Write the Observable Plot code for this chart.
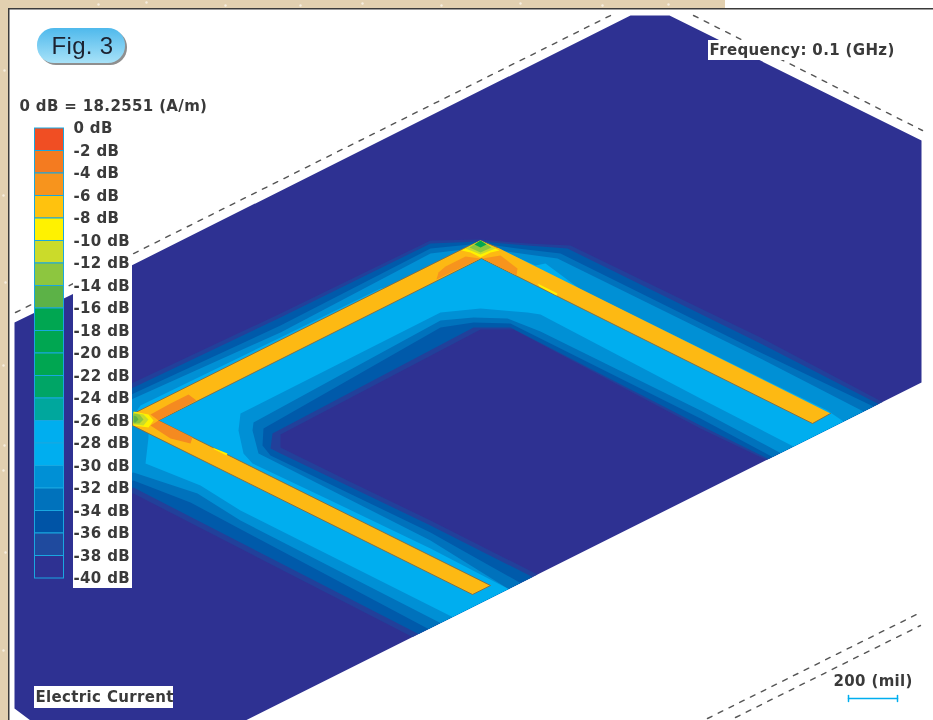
<!DOCTYPE html>
<html>
<head>
<meta charset="utf-8">
<script src="https://cdn.jsdelivr.net/npm/d3@7"></script>
<script src="https://cdn.jsdelivr.net/npm/@observablehq/plot@0.6"></script>
<style>
html,body{margin:0;padding:0;background:#fff;}
#chart{position:relative;width:933px;height:720px;overflow:hidden;}
#chart svg{position:absolute;left:0;top:0;background:transparent;}
</style>
</head>
<body>
<div id="chart"></div>
<script>
// Colour scale of the legend: one entry per 2 dB step
const dbTicks = [0,-2,-4,-6,-8,-10,-12,-14,-16,-18,-20,-22,-24,-26,-28,-30,-32,-34,-36,-38,-40];
const dbColors = ["#f04e23","#f47b20","#f7941d","#ffc20e","#fff200","#cbdb2a","#8dc63f","#5cb247","#00a651","#00a651","#00a651","#00a566","#00a79d","#00aeef","#00aeef","#0090d5","#0072bc","#0054a6","#1f4a9e","#2e3192"];

// Outlines, in picture coordinates
const board = [[14,322],[133,264],[630,15],[669,15],[921,140],[921,382],[245,720],[30,720],[14,708]];

const band38 = [[882,401.5],[760,337],[570,245],[527,243],[480,239],[430,240],[280,313],[133,382],[120,388],[120,495],[133,493],[412,636.5],[537,574],[430,520],[347,480],[280,447],[280,434],[480,329],[513,329],[700,428],[766,459.5]];
const band36 = [[878,403.5],[760,343],[567,248],[527,245],[480,241],[430,243],[280,317],[133,387],[120,393],[120,490],[133,487],[418,633.5],[532,576.5],[430,525],[278,452],[270,448],[272,433],[473,327],[510,327],[700,425],[768,458.5]];
const band34 = [[873,406],[760,352],[560,253],[517,248],[480,243],[430,248],[280,325],[133,393],[120,400],[120,484],[133,480],[190,502],[428,628.5],[520,582.5],[430,532],[270,455],[262,445],[263,428],[440,327],[473,322],[510,323],[700,418],[772,456.5]];
const band32 = [[863,411],[760,358],[557,258],[513,252],[480,247],[430,253],[280,332],[133,398],[120,405],[120,475],[133,472],[197,493],[240,520],[440,622.5],[508,588.5],[430,540],[272,460],[258,453],[252,430],[253,422],[440,320],[473,317],[507,318],[540,331],[700,410],[780,452.5]];
const band30 = [[843,421],[827,410],[580,289],[545,263],[535,265],[510,254],[480,255],[400,283],[380,288],[280,337],[140,405],[133,415],[148,428],[148,437],[145,463],[200,485],[240,510],[452,616.5],[508,588.5],[430,548],[330,500],[252,463],[243,453],[238,430],[240,413],[440,312],[480,308],[527,312],[540,314],[700,398],[793,446]];

const trace = [[830,413],[812,423],[481,258],[158,420],[490,585],[472,594],[132,425],[133,413],[463,248],[480,240],[497,247]];

const orangeApexLeft = [[436,279],[438,272],[445,266],[465,256],[480,258]];
const orangeApexRight = [[482,258],[500,255],[517,268],[516,275]];
const orangeVertexUp = [[158,420],[150,414],[170,403],[188,394],[196,400]];
const orangeVertexDown = [[158,420],[150,425],[170,438],[190,443],[192,437]];

const apexYellow = [[461,250],[480,240],[499,250],[490,252],[480,257],[470,252]];
const apexLime = [[465,248],[480,240],[495,248],[480,254]];
const apexMid = [[469,247],[480,240],[491,247],[480,252]];
const apexGreen = [[474,244],[480,240],[486,244],[480,247]];

const tipYellow = [[133,411],[148,414],[153,420],[148,427],[133,425]];
const tipLime = [[133,412],[143,414],[148,419],[143,425],[133,424]];
const tipMid = [[133,413],[139,414],[143,419],[139,423],[133,423]];
const tipGreen = [[133,415],[136,416],[138,419],[135,422],[133,422]];

const glintLower = [[212,447],[227,453],[226,455],[214,449]];
const glintRight = [[537,283],[557,293],[556,295],[539,286]];

const dashTopLeft = [[15,312],[610,15]];
const dashTopRight = [[693,15],[922,130]];
const dashBottomA = [[707,718],[920,612]];
const dashBottomB = [[735,717],[920,625]];

// Texts
const labelFrequency = "Frequency: 0.1 (GHz)";
const labelReference = "0 dB = 18.2551 (A/m)";
const labelQuantity = "Electric Current";
const labelScale = "200 (mil)";
const labelFigure = "Fig. 3";

// A few light flecks on the tan paper
const flecks = [[98,4],[146,2],[225,5],[300,5],[362,3],[441,5],[520,3],[602,5],[668,4],[4,70],[3,195],[5,282],[3,365],[4,445],[3,470],[5,552],[3,650]];

const coord = d => d;
const poly = (pts, fill, extra = {}) => Plot.line(pts, {x: d => d[0], y: d => d[1], fill, stroke: "none", ...extra});
const dash = pts => Plot.line(pts, {x: d => d[0], y: d => d[1], stroke: "#555", strokeWidth: 1.4, strokeDasharray: "5 7"});
const box = (x1, x2, y1, y2, fill) => Plot.rect([0], {x1: () => x1, x2: () => x2, y1: () => y1, y2: () => y2, fill});
const FONT = "'DejaVu Sans', sans-serif";
const textStyle = {textAnchor: "start", fill: "#3a3a3a", fontSize: 15, fontWeight: 700, fontFamily: FONT};
const label = (t, x, y) => Plot.text([t], {x: () => x, y: () => y, text: coord, ...textStyle});
const svgStyle = {background: "transparent", filter: "blur(0.45px)", letterSpacing: "0.35px"};

const main = Plot.plot({
  width: 933, height: 720, margin: 0,
  x: {domain: [0, 933], range: [0, 933], axis: null},
  y: {domain: [0, 720], range: [0, 720], axis: null},
  style: svgStyle,
  marks: [
    box(0, 933, 0, 720, "#ffffff"),
    box(0, 725, 0, 8, "#e2d0b0"),
    box(0, 8, 0, 720, "#e2d0b0"),
    Plot.dot(flecks, {x: d => d[0], y: d => d[1], r: 1.2, fill: "#f6eee0"}),
    box(8, 933, 8, 9.5, "#3a3a3a"),
    box(8, 9.5, 8, 720, "#3a3a3a"),
    dash(dashTopLeft), dash(dashTopRight), dash(dashBottomA), dash(dashBottomB),
    poly(board, "#2e3192"),
    poly(band38, "#22409a"),
    poly(band36, "#005aaa"),
    poly(band34, "#0072bc"),
    poly(band32, "#0090d5"),
    poly(band30, "#00aeef"),
    poly(trace, "#fdb913", {stroke: "#7f6a45", strokeWidth: 0.9}),
    poly(orangeApexLeft, "#f7941d"), poly(orangeApexRight, "#f7941d"),
    poly(orangeVertexUp, "#f58a20"), poly(orangeVertexDown, "#f58a20"),
    poly(glintLower, "#fff200"), poly(glintRight, "#fff200"),
    poly(apexYellow, "#fff200"), poly(apexLime, "#cbdb2a"), poly(apexMid, "#8dc63f"), poly(apexGreen, "#00a651"),
    poly(tipYellow, "#fff200"), poly(tipLime, "#cbdb2a"), poly(tipMid, "#8dc63f"), poly(tipGreen, "#5cb247"),
    box(73, 132, 125, 588, "#ffffff"),
    box(34, 173, 686, 708, "#ffffff"),
    box(708, 900, 40, 60, "#ffffff"),
    label(labelFrequency, 709, 50),
    label(labelReference, 19, 106),
    label(labelQuantity, 35, 697),
    label(labelScale, 833, 681),
    Plot.line([[848, 698], [897, 698]], {x: d => d[0], y: d => d[1], stroke: "#00aeef", strokeWidth: 1.5}),
    Plot.line([[848, 695], [848, 701]], {x: d => d[0], y: d => d[1], stroke: "#00aeef", strokeWidth: 1.5}),
    Plot.line([[897, 695], [897, 701]], {x: d => d[0], y: d => d[1], stroke: "#00aeef", strokeWidth: 1.5}),
    Plot.rect([0], {x1: () => 39, x2: () => 127, y1: () => 30, y2: () => 65, fill: "#8f8f8f", rx: 17}),
    () => {
      const defs = d3.create("svg:defs");
      const g = defs.append("linearGradient").attr("id", "pill").attr("x1", 0).attr("y1", 0).attr("x2", 0).attr("y2", 1);
      g.append("stop").attr("offset", "0%").attr("stop-color", "#4fb9ec");
      g.append("stop").attr("offset", "100%").attr("stop-color", "#a8e2f8");
      return defs.node();
    },
    Plot.rect([0], {x1: () => 37, x2: () => 125, y1: () => 28, y2: () => 63, fill: "url(#pill)", rx: 17}),
    Plot.text([labelFigure], {x: () => 82, y: () => 46, text: coord, fontSize: 24, fontFamily: "'Liberation Sans', sans-serif", fill: "#1c2230"})
  ]
});

// Legend: its vertical axis runs in dB
const cells = dbColors.map((c, i) => ({top: dbTicks[i], bottom: dbTicks[i + 1], color: c}));
const legend = Plot.plot({
  width: 933, height: 720, margin: 0,
  x: {domain: [0, 933], range: [0, 933], axis: null},
  y: {domain: [0, -40], range: [128, 578], axis: null},
  style: svgStyle,
  marks: [
    Plot.rect(cells, {x1: () => 34.5, x2: () => 63.5, y1: "top", y2: "bottom", fill: d => d.color, stroke: "#19a7e0", strokeWidth: 1}),
    Plot.text(dbTicks, {x: () => 73, y: coord, text: d => `${d} dB`, ...textStyle})
  ]
});

const host = document.getElementById("chart");
host.append(main, legend);
</script>
</body>
</html>
